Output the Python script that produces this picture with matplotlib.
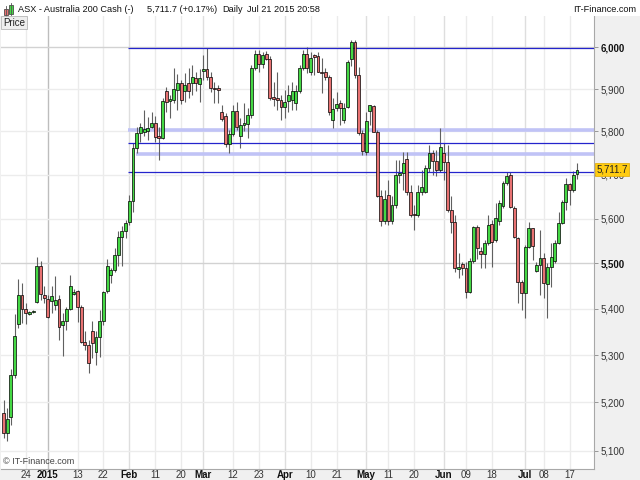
import matplotlib
matplotlib.use('Agg')
import matplotlib.pyplot as plt
import matplotlib.transforms as mtransforms
from matplotlib.ticker import FixedLocator, NullLocator, FixedFormatter
from matplotlib.patches import Rectangle
from matplotlib.lines import Line2D
import numpy as np
import pandas as pd

plt.rcParams['font.family'] = ['Liberation Sans', 'DejaVu Sans']

# ---------------- data ----------------
dates = pd.bdate_range('2014-12-16', '2015-07-21')

opens = [5179, 5137, 5169, 5257, 5366, 5431, 5399, 5389, 5393, 5414,
         5494, 5430, 5422, 5417, 5408, 5421, 5364, 5374, 5400, 5432,
         5438, 5404, 5328, 5321, 5353, 5306, 5340, 5374, 5438, 5473,
         5485, 5519, 5559, 5573, 5593, 5640, 5761, 5796, 5799, 5802,
         5810, 5819, 5789, 5785, 5896, 5872, 5875, 5898, 5914, 5896,
         5915, 5915, 5927, 5912, 5944, 5947, 5929, 5903, 5902, 5846,
         5836, 5770, 5793, 5849, 5789, 5815, 5817, 5839, 5951, 5985,
         5961, 5983, 5973, 5881, 5879, 5874, 5857, 5871, 5874, 5866,
         5895, 5950, 5983, 5940, 5981, 5980, 5941, 5940, 5928, 5827,
         5854, 5866, 5827, 5858, 5972, 6014, 5933, 5796, 5753, 5848,
         5860, 5799, 5652, 5595, 5653, 5595, 5631, 5699, 5703, 5735,
         5661, 5610, 5608, 5661, 5661, 5715, 5749, 5732, 5710, 5751,
         5730, 5619, 5593, 5488, 5498, 5489, 5437, 5504, 5580, 5527,
         5520, 5546, 5588, 5552, 5595, 5628, 5680, 5699, 5625, 5557,
         5459, 5434, 5537, 5578, 5483, 5496, 5512, 5454, 5491, 5504,
         5546, 5591, 5638, 5678, 5665, 5701]

closes = [5136, 5166, 5257, 5341, 5430, 5399, 5390, 5392, 5396, 5493,
          5433, 5423, 5383, 5427, 5419, 5360, 5374, 5400, 5450, 5437,
          5403, 5329, 5322, 5283, 5327, 5340, 5374, 5437, 5495, 5485,
          5519, 5559, 5573, 5589, 5640, 5761, 5796, 5811, 5805, 5807,
          5819, 5788, 5785, 5872, 5869, 5876, 5899, 5914, 5874, 5910,
          5895, 5928, 5914, 5926, 5947, 5929, 5902, 5899, 5897, 5829,
          5770, 5793, 5848, 5811, 5815, 5819, 5839, 5951, 5985, 5961,
          5981, 5973, 5878, 5876, 5874, 5857, 5870, 5885, 5895, 5895,
          5950, 5983, 5950, 5975, 5977, 5941, 5939, 5928, 5846, 5853,
          5865, 5854, 5856, 5964, 6014, 5933, 5796, 5755, 5824, 5861,
          5799, 5652, 5595, 5644, 5595, 5631, 5699, 5703, 5726, 5661,
          5608, 5607, 5661, 5671, 5715, 5749, 5732, 5710, 5764, 5730,
          5619, 5593, 5489, 5492, 5490, 5437, 5504, 5580, 5533, 5520,
          5546, 5586, 5548, 5601, 5636, 5680, 5697, 5627, 5559, 5459,
          5434, 5537, 5578, 5538, 5496, 5512, 5456, 5491, 5515, 5546,
          5591, 5638, 5678, 5665, 5699, 5711.7]

highs = [5205, 5188, 5271, 5389, 5465, 5457, 5413, 5395, 5398, 5515,
         5506, 5449, 5430, 5449, 5471, 5430, 5390, 5405, 5474, 5443,
         5441, 5408, 5351, 5333, 5374, 5351, 5398, 5439, 5510, 5489,
         5534, 5571, 5583, 5597, 5653, 5772, 5810, 5819, 5850, 5835,
         5846, 5836, 5811, 5879, 5906, 5886, 5950, 5937, 5921, 5938,
         5950, 5957, 5941, 5947, 5981, 5998, 5941, 5917, 5910, 5862,
         5843, 5803, 5862, 5870, 5831, 5867, 5855, 5957, 5993, 5993,
         5989, 5991, 5979, 5917, 5941, 5886, 5898, 5910, 5917, 5910,
         5957, 5993, 6001, 5989, 5984, 5989, 5974, 5950, 5933, 5879,
         5893, 5874, 5867, 5969, 6018, 6018, 5953, 5803, 5846, 5862,
         5862, 5803, 5665, 5665, 5688, 5651, 5734, 5734, 5752, 5752,
         5676, 5631, 5676, 5711, 5722, 5768, 5757, 5757, 5808, 5773,
         5768, 5651, 5608, 5523, 5503, 5503, 5512, 5583, 5586, 5537,
         5552, 5608, 5597, 5635, 5642, 5685, 5706, 5706, 5628, 5559,
         5463, 5541, 5592, 5579, 5503, 5574, 5523, 5501, 5545, 5552,
         5615, 5642, 5692, 5681, 5708, 5727]

lows = [5126, 5119, 5153, 5252, 5358, 5369, 5367, 5387, 5391, 5413,
        5419, 5412, 5380, 5390, 5398, 5333, 5299, 5354, 5398, 5430,
        5372, 5326, 5311, 5262, 5294, 5279, 5297, 5365, 5435, 5456,
        5481, 5495, 5494, 5556, 5586, 5614, 5751, 5776, 5789, 5780,
        5808, 5776, 5734, 5782, 5846, 5831, 5867, 5850, 5865, 5869,
        5879, 5886, 5895, 5870, 5922, 5922, 5893, 5866, 5867, 5824,
        5764, 5749, 5789, 5803, 5761, 5801, 5785, 5832, 5945, 5940,
        5950, 5969, 5874, 5860, 5850, 5827, 5831, 5846, 5850, 5850,
        5891, 5945, 5938, 5933, 5933, 5940, 5891, 5922, 5839, 5808,
        5848, 5815, 5820, 5855, 5955, 5926, 5792, 5745, 5745, 5815,
        5799, 5649, 5583, 5588, 5586, 5588, 5624, 5681, 5665, 5653,
        5604, 5574, 5604, 5653, 5658, 5706, 5699, 5697, 5706, 5688,
        5615, 5568, 5481, 5468, 5474, 5423, 5435, 5501, 5510, 5489,
        5490, 5541, 5492, 5547, 5586, 5624, 5676, 5624, 5556, 5412,
        5398, 5380, 5534, 5507, 5481, 5430, 5424, 5380, 5448, 5501,
        5543, 5588, 5619, 5631, 5660, 5689]

y_ticks = [5100, 5200, 5300, 5400, 5500, 5600, 5700, 5800, 5900, 6000]
y_tick_labels = ['5,100', '5,200', '5,300', '5,400', '5,500', '5,600',
                 '5,700', '5,800', '5,900', '6,000']

x_tick_dates = ['2014-12-24', '2015-01-01', '2015-01-13', '2015-01-22', '2015-02-02',
                '2015-02-11', '2015-02-20', '2015-03-02', '2015-03-12', '2015-03-23',
                '2015-04-01', '2015-04-10', '2015-04-21', '2015-05-01', '2015-05-11',
                '2015-05-20', '2015-06-01', '2015-06-09', '2015-06-18', '2015-07-01',
                '2015-07-08', '2015-07-17']
x_tick_labels = ['24', '2015', '13', '22', 'Feb', '11', '20', 'Mar', '12', '23',
                 'Apr', '10', '21', 'May', '11', '20', 'Jun', '09', '18', 'Jul',
                 '08', '17']

# support / resistance lines: level, start date, style
line_levels = [5998, 5803, 5772, 5747, 5707]
line_starts = ['2015-02-02', '2015-02-02', '2015-02-02', '2015-02-04', '2015-02-02']
line_kinds = ['dark', 'light', 'dark', 'light', 'dark']

last_price = 5711.7

# ---------------- figure ----------------
W, H = 640, 480
fig = plt.figure(figsize=(6.4, 4.8), dpi=100, facecolor='#f0f0f0')

def fx(px):
    return px / W

def fy(py):
    return 1 - py / H

# white header strip
fig.patches.append(Rectangle((0, fy(16)), 1, 16 / H, transform=fig.transFigure,
                             facecolor='white', edgecolor='none', zorder=0))

ax_left, ax_right, ax_top, ax_bottom = 1, 594, 16, 469
ax = fig.add_axes([fx(ax_left), fy(ax_bottom), fx(ax_right - ax_left),
                   (ax_bottom - ax_top) / H])
ax.set_facecolor('white')

n = len(dates)
idx = np.arange(n)
o = np.array(opens, float)
c = np.array(closes, float)
hi = np.array(highs, float)
lo = np.array(lows, float)

ax.set_yscale('log')
step = 3.7
x0 = 3.5
ax.set_xlim((ax_left - x0) / step, (ax_right - x0) / step)
ax.set_ylim(5062.5, 6076.2)

# grid
tick_pos = dates.get_indexer(pd.to_datetime(x_tick_dates))
for p, lab in zip(tick_pos, x_tick_labels):
    if lab == '2015':
        col = '#bdbdbd'
    elif lab.isalpha():
        col = '#dedede'
    else:
        col = '#ebebeb'
    ax.axvline(p, color=col, lw=1.0, zorder=0)
for v in y_ticks:
    col = '#d2d2d2' if v in (5500, 6000) else '#ececec'
    ax.axhline(v, color=col, lw=1.0, zorder=0)

# support/resistance lines
for lev, st, kind in zip(line_levels, line_starts, line_kinds):
    s = dates.get_loc(pd.Timestamp(st)) - 0.3
    if kind == 'light':
        ax.plot([s, ax.get_xlim()[1]], [lev, lev], color='#c0c3f6', lw=2.6,
                zorder=1, solid_capstyle='butt')
    else:
        ax.plot([s, ax.get_xlim()[1]], [lev, lev], color='#2424cc', lw=0.9,
                zorder=3, solid_capstyle='butt')

# candles
up = c >= o
ax.vlines(idx, lo, hi, color='#606060', lw=0.8, zorder=2)
body_bottom = np.minimum(o, c)
body_h = np.maximum(np.abs(c - o), 0.8)
colors = np.where(up, '#44d844', '#e87272')
ax.bar(idx, body_h, bottom=body_bottom, width=0.8, color=colors,
       edgecolor='black', linewidth=0.5, zorder=4)

# axes styling
for side in ['top', 'left']:
    ax.spines[side].set_visible(False)
ax.spines['right'].set_color('#a8a8a8')
ax.spines['bottom'].set_color('#a8a8a8')

ax.yaxis.tick_right()
ax.yaxis.set_major_locator(FixedLocator(y_ticks))
ax.yaxis.set_major_formatter(FixedFormatter(y_tick_labels))
ax.yaxis.set_minor_locator(NullLocator())
ax.tick_params(axis='y', which='major', direction='out', length=3, width=0.6,
               color='#888888', labelsize=7, labelcolor='#333333', pad=1.5)
for t, v in zip(ax.get_yticklabels(), y_ticks):
    if v in (5500, 6000):
        t.set_fontweight('bold')
        t.set_color('#111111')

ax.set_xticks(tick_pos)
ax.set_xticklabels(x_tick_labels)
ax.tick_params(axis='x', length=0, labelsize=7, labelcolor='#333333', pad=0.8)
for t, lab in zip(ax.get_xticklabels(), x_tick_labels):
    if lab.isalpha() or lab == '2015':
        t.set_fontweight('bold')
        t.set_color('#111111')

# last price tag
trans = mtransforms.blended_transform_factory(ax.transAxes, ax.transData)
ax.text(1.004, last_price, '{:,.1f}'.format(last_price), transform=trans,
        ha='left', va='center', fontsize=7, color='#222222', zorder=10,
        bbox=dict(boxstyle='square,pad=0.18', facecolor='#ffcc11',
                  edgecolor='#e0a800', linewidth=0.5), clip_on=False)

# watermark inside plot
ax.text(2 / (ax_right - ax_left), 8 / (ax_bottom - ax_top), '\u00a9 IT-Finance.com',
        transform=ax.transAxes, ha='left', va='center', fontsize=6.5,
        color='#444444')

# header
hfs = 6.6
fig.text(fx(18), fy(9), 'ASX - Australia 200 Cash (-)', fontsize=hfs, va='center',
         ha='left', color='#111111')
fig.text(fx(147), fy(9), '5,711.7 (+0.17%)', fontsize=hfs, va='center', ha='left',
         color='#111111')
fig.text(fx(222), fy(9), 'Daily', fontsize=hfs, va='center', ha='left',
         color='#111111')
fig.text(fx(247), fy(9), 'Jul 21 2015 20:58', fontsize=hfs, va='center',
         ha='left', color='#111111')
fig.text(fx(636), fy(9), 'IT-Finance.com', fontsize=hfs, va='center', ha='right',
         color='#111111')

# header icon (small candles)
fig.add_artist(Line2D([fx(6), fx(6)], [fy(16), fy(6)], transform=fig.transFigure,
                      color='#555555', lw=0.6))
fig.patches.append(Rectangle((fx(4), fy(15)), fx(4), 6 / H, transform=fig.transFigure,
                             facecolor='#e87272', edgecolor='#333333', lw=0.5))
fig.add_artist(Line2D([fx(11), fx(11)], [fy(15), fy(3)], transform=fig.transFigure,
                      color='#555555', lw=0.6))
fig.patches.append(Rectangle((fx(9), fy(14)), fx(4), 9 / H, transform=fig.transFigure,
                             facecolor='#44d844', edgecolor='#333333', lw=0.5))

# "Price" label box
fig.text(fx(3), fy(22.5), 'Price', fontsize=7, va='center', ha='left',
         color='#222222',
         bbox=dict(boxstyle='square,pad=0.2', facecolor='#eeeeee',
                   edgecolor='#aaaaaa', linewidth=0.5))

fig.savefig('out.png', dpi=100, facecolor=fig.get_facecolor())
